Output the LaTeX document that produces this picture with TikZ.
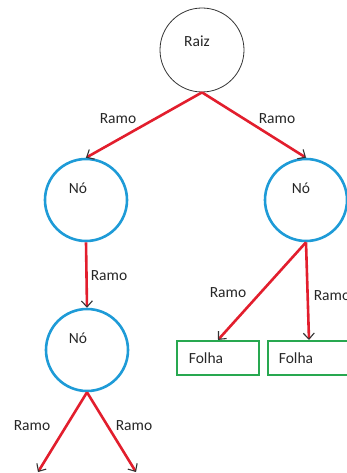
\documentclass[tikz,border=0pt]{standalone}
\usepackage{fontspec}
\setmainfont{Carlito}
\usetikzlibrary{arrows.meta}
\definecolor{edgered}{RGB}{226,30,45}
\definecolor{nodeblue}{RGB}{30,155,215}
\definecolor{leafgreen}{RGB}{40,168,80}
\definecolor{tipgray}{RGB}{50,50,50}
\tikzset{
  lbl/.style={inner sep=0pt, font=\fontsize{15.5}{18}\selectfont, text=black!85},
  rootcirc/.style={circle, draw=black!80, line width=0.8pt, minimum size=84pt, inner sep=0pt},
  nodecirc/.style={circle, draw=nodeblue, line width=2.6pt, minimum size=82pt, inner sep=0pt},
  leafbox/.style={rectangle, draw=leafgreen, line width=2.2pt, minimum width=82pt, minimum height=34pt, inner sep=0pt},
  branch/.style={draw=edgered, line width=2.6pt, -{Straight Barb[length=6pt,width=11pt,color=tipgray,line width=1.1pt]}}
}
\begin{document}
\begin{tikzpicture}[x=1pt,y=-1pt]
\useasboundingbox (0,0) rectangle (346,473);
% shapes
\node[rootcirc] (root) at (202,50) {};
\node[nodecirc] (n1) at (86,200) {};
\node[nodecirc] (n2) at (306,200) {};
\node[nodecirc] (n3) at (87,350) {};
\node[leafbox] (f1) at (218,358) {};
\node[leafbox] (f2) at (309,358) {};
\coordinate (e1) at (38,472);
\coordinate (e2) at (136,472);
% texts
\node[lbl] (troot) at (197,41) {Raiz};
\node[lbl] (tn1) at (78,188) {Nó};
\node[lbl] (tn2) at (301,188) {Nó};
\node[lbl] (tn3) at (78,338) {Nó};
\node[lbl] (tf1) at (206,358) {Folha};
\node[lbl] (tf2) at (296,358) {Folha};
% branches
\draw[branch] (root.south) -- (n1.north);
\draw[branch] (root.south) -- (n2.north);
\draw[branch] (n1.south) -- (n3.north);
\draw[branch] (n2.south) -- (f1.north);
\draw[branch] (n2.south) -- (f2.north);
\draw[branch] (n3.south) -- (e1);
\draw[branch] (n3.south) -- (e2);
% branch labels
\node[lbl] (r1) at (118,119) {Ramo};
\node[lbl] (r2) at (277,119) {Ramo};
\node[lbl] (r3) at (109,276) {Ramo};
\node[lbl] (r4) at (228,293) {Ramo};
\node[lbl] (r5) at (332,296) {Ramo};
\node[lbl] (r6) at (32,426) {Ramo};
\node[lbl] (r7) at (134,426) {Ramo};
\end{tikzpicture}
\end{document}
